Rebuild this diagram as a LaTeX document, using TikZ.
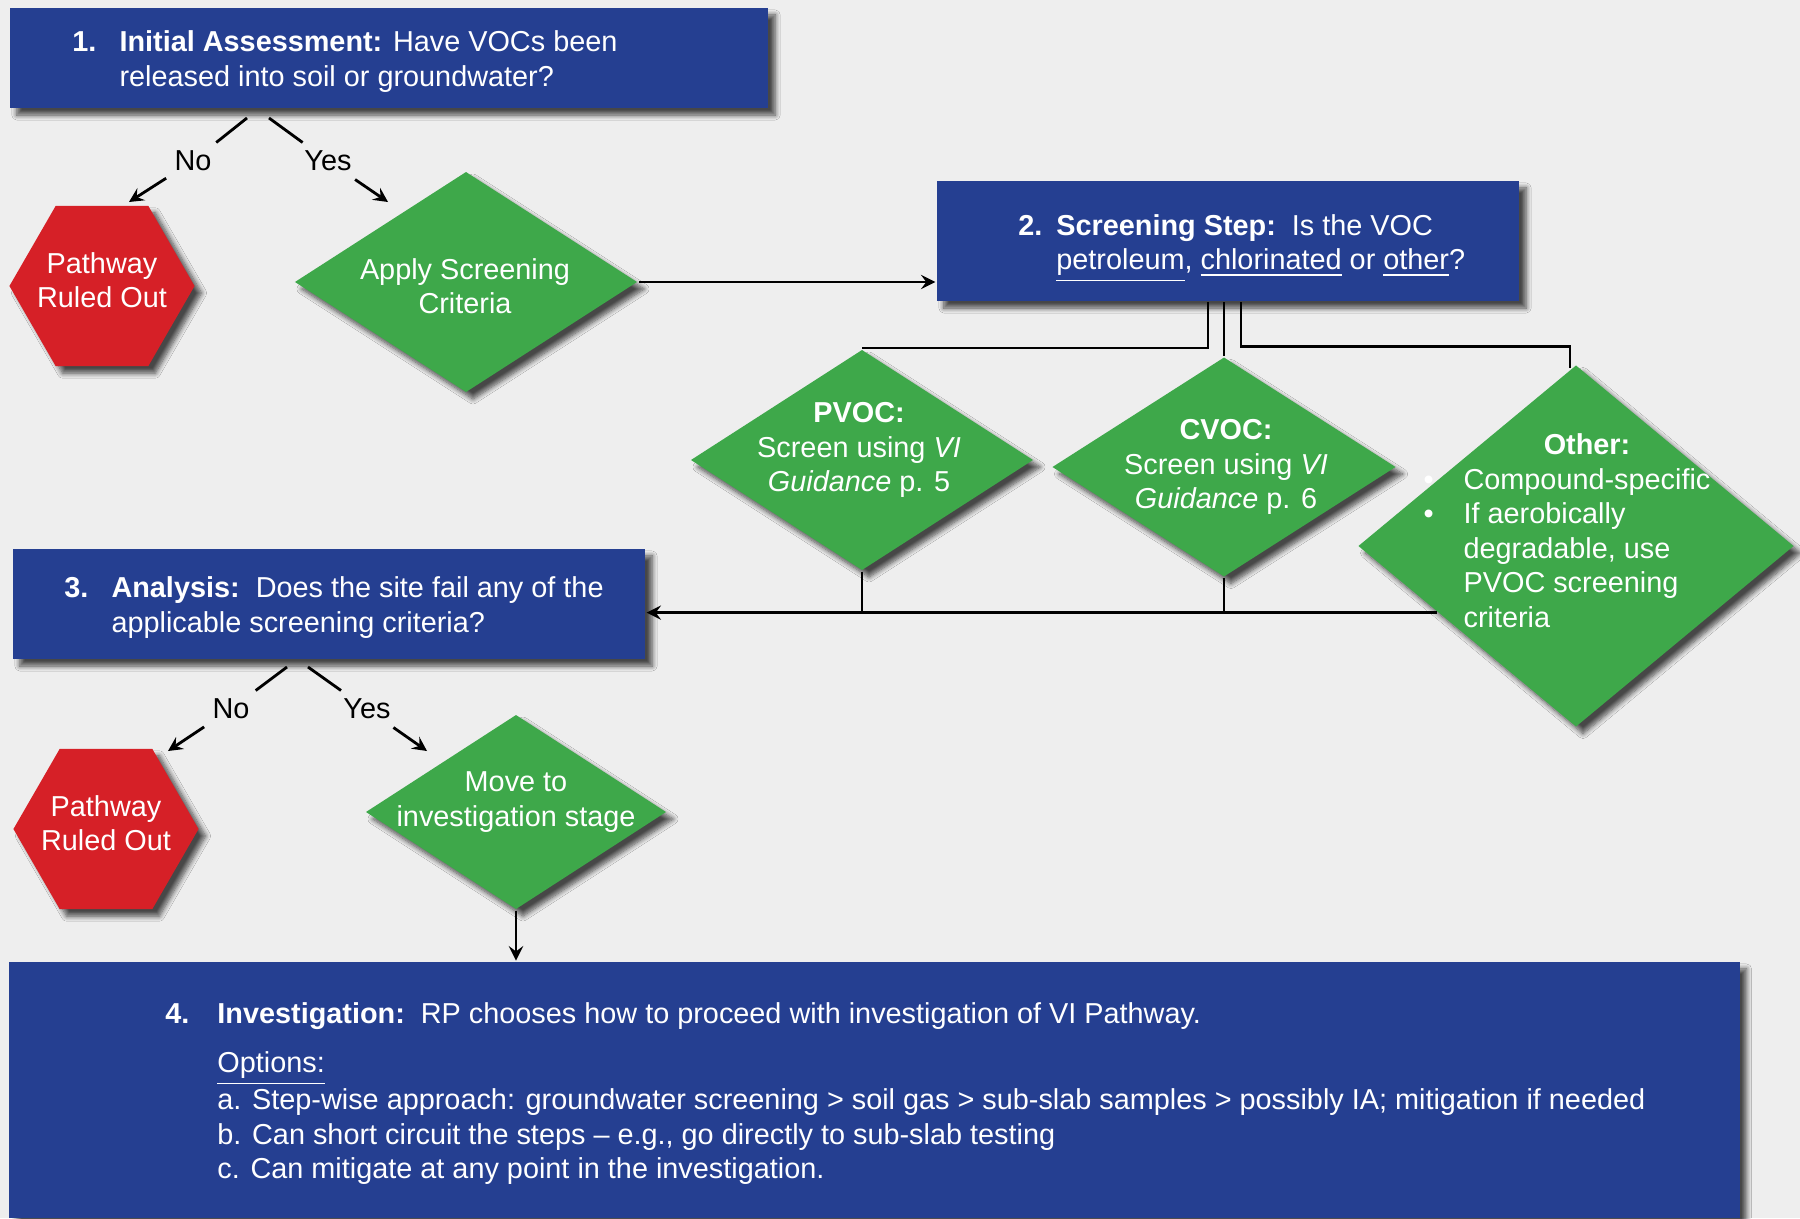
\documentclass[tikz,border=0pt]{standalone}
\usepackage{fontspec}
\setmainfont{Liberation Sans}
\usetikzlibrary{arrows,shapes.geometric,shadows.blur,calc}

\definecolor{pagegray}{RGB}{238,238,238}
\definecolor{stepblue}{RGB}{37,63,145}
\definecolor{testgreen}{RGB}{62,168,74}
\definecolor{stopred}{RGB}{214,32,39}

\begin{document}
\begin{tikzpicture}[x=0.01cm, y=-0.01cm, >=stealth, thick,
    font=\fontsize{8.2}{9.8}\selectfont,
    softshadow/.style={blur shadow={shadow xshift=0.07cm, shadow yshift=-0.07cm,
        shadow blur radius=0.05cm, shadow blur steps=8, shadow opacity=70}},
    stepbox/.style={rectangle, fill=stepblue, inner sep=0pt, softshadow},
    steptext/.style={text=white, inner sep=0pt, anchor=west},
    decision/.style={diamond, fill=testgreen, inner sep=0pt, softshadow},
    dtext/.style={text=white, align=center, inner sep=0pt},
    stopsign/.style={regular polygon, regular polygon sides=6, minimum size=1.85cm,
        fill=stopred, inner sep=0pt, softshadow},
    answer/.style={inner sep=2pt}]

    \useasboundingbox (0,0) rectangle (1800,1218);
    \fill[pagegray] (0,0) rectangle (1800,1218);

    %%% Step 1
    \node[stepbox, minimum width=7.58cm, minimum height=1.0cm] (box1) at (389,58) {};
    \node[steptext] (t1) at (71,62) {\begin{tabular}{@{}p{13.4pt}@{}l@{}}
        \textbf{1.} & \textbf{Initial Assessment:} Have VOCs been\\
        & released into soil or groundwater?\end{tabular}};

    \node[stopsign] (rule1) at (102,286) {};
    \node[dtext] (rule1txt) at (102,280) {Pathway\\Ruled Out};
    \node[decision, minimum width=3.43cm, minimum height=2.21cm] (apply) at (466,282) {};
    \node[dtext] (applytxt) at (465,286) {Apply Screening\\Criteria};

    % No / Yes split under step 1
    \coordinate (j1l) at (247,118);
    \coordinate (j1r) at (269,118);
    \coordinate (tip1l) at (129,202);
    \coordinate (tip1r) at (388,202);
    \node[answer] (no1) at (193,161) {No};
    \node[answer] (yes1) at (328,161) {Yes};
    \draw (j1l) -- (no1);
    \draw (j1r) -- (yes1);
    \draw[->] (no1) -- (tip1l);
    \draw[->] (yes1) -- (tip1r);

    %%% Step 2
    \node[stepbox, minimum width=5.82cm, minimum height=1.2cm] (box2) at (1228,241) {};
    \node[steptext] (t2) at (1017,247) {\begin{tabular}{@{}p{10.8pt}@{}l@{}}
        \textbf{2.} & \textbf{Screening Step:}\ \ Is the VOC\\
        & \underline{petroleum}, \underline{chlorinated} or \underline{other}?\end{tabular}};

    \draw[->] (apply.east) -- (apply.east -| box2.west);

    % Three kinds of VOC
    \node[decision, minimum width=3.43cm, minimum height=2.21cm] (pvoc) at (862,460) {};
    \node[dtext] (pvoctxt) at (859,450) {\textbf{PVOC:}\\Screen using \textit{VI}\\\textit{Guidance} p. 5};

    \node[decision, minimum width=3.44cm, minimum height=2.20cm] (cvoc) at (1224,467) {};
    \node[dtext] (cvoctxt) at (1226,467) {\textbf{CVOC:}\\Screen using \textit{VI}\\\textit{Guidance} p. 6};

    \node[decision, minimum width=4.36cm, minimum height=3.62cm] (other) at (1576,546) {};
    \node[dtext] (othertxt) at (1587,534) {\begin{tabular}{@{}l@{}}
        \multicolumn{1}{@{}c@{}}{\textbf{Other:}}\\
        \llap{\textbullet\hspace{8.5pt}}Compound-specific\\
        \llap{\textbullet\hspace{8.5pt}}If aerobically\\
        degradable, use\\
        PVOC screening\\
        criteria\end{tabular}};

    \draw ([xshift=-2mm]box2.south) |- (pvoc.north);
    \draw (box2.south -| cvoc.north) -- (cvoc.north);
    \draw ([xshift=1.3mm]box2.south) |- ([xshift=-0.06cm, yshift=1.7mm]other.north)
        -- ([xshift=-0.06cm, yshift=-0.05cm]other.north);

    %%% Step 3
    \node[stepbox, minimum width=6.32cm, minimum height=1.1cm] (box3) at (329,604) {};
    \node[steptext] (t3) at (63,608) {\begin{tabular}{@{}p{13.4pt}@{}l@{}}
        \textbf{3.} & \textbf{Analysis:}\ \ Does the site fail any of the\\
        & applicable screening criteria?\end{tabular}};

    % results back to step 3
    \coordinate (oj) at ($(other.west)!0.365!(other.south)$);
    \draw (pvoc.south) -- (pvoc.south |- oj);
    \draw (cvoc.south) -- (cvoc.south |- oj);
    \draw[->] (oj) -- (oj -| box3.east);

    \node[stopsign] (rule2) at (106,829) {};
    \node[dtext] (rule2txt) at (106,823) {Pathway\\Ruled Out};
    \node[decision, minimum width=3.01cm, minimum height=1.95cm] (move) at (516,812) {};
    \node[dtext] (movetxt) at (516,802) {Move to\\investigation stage};

    % No / Yes split under step 3
    \coordinate (j3l) at (287,667);
    \coordinate (j3r) at (308,667);
    \coordinate (tip3l) at (168,751);
    \coordinate (tip3r) at (427,751);
    \node[answer] (no3) at (231,709) {No};
    \node[answer] (yes3) at (367,709) {Yes};
    \draw (j3l) -- (no3);
    \draw (j3r) -- (yes3);
    \draw[->] (no3) -- (tip3l);
    \draw[->] (yes3) -- (tip3r);

    %%% Step 4
    \node[stepbox, minimum width=17.29cm, minimum height=2.56cm] (box4) at (874.5,1090) {};
    \node[steptext, anchor=north west] (t4) at (164,998) {\begin{tabular}{@{}p{14.8pt}@{}l@{}}
        \textbf{4.} & \textbf{Investigation:}\ \ RP chooses how to proceed with investigation of VI Pathway.\\[4.2pt]
        & \underline{Options:}\\
        & a. Step-wise approach: groundwater screening > soil gas > sub-slab samples > possibly IA; mitigation if needed\\
        & b. Can short circuit the steps – e.g., go directly to sub-slab testing\\
        & c. Can mitigate at any point in the investigation.\end{tabular}};

    \draw[->] (move.south) -- (move.south |- box4.north);

\end{tikzpicture}
\end{document}
